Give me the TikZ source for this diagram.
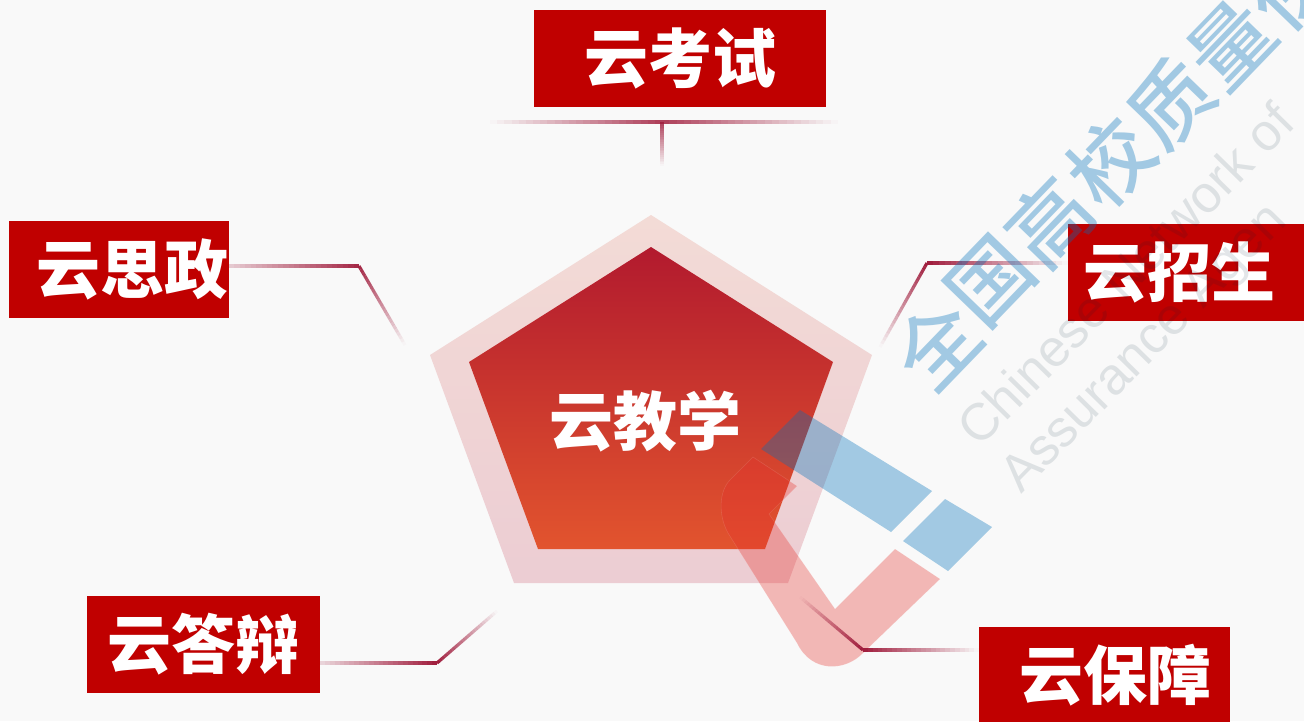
\documentclass[tikz,border=0pt]{standalone}
\usepackage{fontspec}
\usetikzlibrary{calc}
\newfontfamily\cjk{Noto Sans CJK SC}
\newfontfamily\cjkwm{Noto Sans CJK SC Medium}
\newfontfamily\wmfont{Liberation Sans}
\definecolor{pagebg}{HTML}{F9F9F9}
\definecolor{boxred}{HTML}{C00000}
\definecolor{linered}{HTML}{A01C3C}
\definecolor{logoblue}{HTML}{0071BA}
\definecolor{logored}{HTML}{E6312B}
\newcommand{\fadeseg}[4]{%
  \foreach \i in {1,...,24}{%
    \pgfmathsetmacro\op{#3+(#4-#3)*(\i-0.5)/24}%
    \pgfmathsetmacro\fa{(\i-1)/24}%
    \pgfmathsetmacro\fb{\i/24}%
    \draw[conn,draw opacity=\op] ($(#1)!\fa!(#2)$) -- ($(#1)!\fb!(#2)$);
  }}
\tikzset{
  box/.style={fill=boxred,inner sep=0pt,minimum height=97pt,text=white,font=\cjk\bfseries\fontsize{64}{64}\selectfont},
  conn/.style={linered,line width=3.2pt},
  wmcn/.style={rotate=46,text=logoblue,text opacity=.35,inner sep=0pt,font=\cjkwm\fontsize{82}{82}\selectfont},
  wmen/.style={rotate=45.5,text=black!70!logoblue,text opacity=.11,inner sep=0pt,anchor=west,font=\wmfont\fontsize{52}{52}\selectfont},
}
\begin{document}
\begin{tikzpicture}[x=1pt,y=-1pt]
\useasboundingbox (0,0) rectangle (1304,721);
\clip (0,0) rectangle (1304,721);
\fill[pagebg] (0,0) rectangle (1304,721);
% pentagon
\shade[top color={rgb,255:red,243;green,219;blue,214},bottom color={rgb,255:red,236;green,205;blue,211}]
  (651,215) -- (872,355) -- (788,583) -- (514,583) -- (430,355) -- cycle;
\shade[top color={rgb,255:red,178;green,26;blue,46},bottom color={rgb,255:red,226;green,84;blue,46}]
  (651,247) -- (833,362) -- (765,549) -- (538,549) -- (469,362) -- cycle;
\node[inner sep=0pt,text=white,font=\cjk\bfseries\fontsize{64}{64}\selectfont] (centre) at (645,421) {云教学};
% logo
\fill[logored,fill opacity=.33,draw=white,draw opacity=.12,line width=.6pt]
  (895,549) -- (940,579) -- (863,653) .. controls (846,671) and (812,674) .. (797,643)
  -- (728,533) .. controls (718,515) and (719,491) .. (730,480)
  -- (753,457) -- (797,486) -- (769,514) -- (835,609) -- cycle;
\fill[logoblue,fill opacity=.35] (800,410) -- (932,491) -- (891,532) -- (761,449) -- cycle;
\fill[logoblue,fill opacity=.35] (945,499) -- (992,527) -- (948,571) -- (903,541) -- cycle;
% boxes
\node[box,minimum width=292pt] (kaoshi) at (680,58.5) {云考试};
\node[box,minimum width=220pt] (sizheng) at (119,269.5) {\kern28pt 云思政};
\node[box,minimum width=236pt] (zhaosheng) at (1186,272.5) {云招生\kern14pt};
\node[box,minimum width=233pt] (dabian) at (203.5,644.5) {云答辩};
\node[box,minimum width=251pt] (baozhang) at (1104.5,675.5) {\kern22pt 云保障};
% connector coordinates
\coordinate (t0) at (490,122); \coordinate (t1) at (662,122); \coordinate (t2) at (838,122); \coordinate (t3) at (662,166);
\coordinate (l0) at (229,266); \coordinate (l1) at (359,266); \coordinate (l2) at (405,345);
\coordinate (r0) at (1068,263); \coordinate (r1) at (927,263); \coordinate (r2) at (880,347);
\coordinate (a0) at (320,663); \coordinate (a1) at (437,663); \coordinate (a2) at (497,611);
\coordinate (b0) at (979,650); \coordinate (b1) at (863,650); \coordinate (b2) at (800,597);
\fadeseg{t0}{t1}{0}{.85}
\fadeseg{t1}{t2}{.85}{0}
\fadeseg{t1}{t3}{.85}{0}
\fadeseg{l0}{l1}{.2}{.95}
\fadeseg{l1}{l2}{.95}{0}
\fadeseg{r0}{r1}{0}{1}
\fadeseg{r1}{r2}{1}{0}
\fadeseg{a0}{a1}{.15}{1}
\fadeseg{a1}{a2}{1}{0}
\fadeseg{b0}{b1}{0}{1}
\fadeseg{b1}{b2}{1}{0}
% watermark
\foreach \nm/\ch/\px/\py in {w1/全/936/344,w2/国/991/282,w3/高/1049/222,w4/校/1110/162,w5/质/1171/103,w6/量/1231/45,w7/保/1291/-14}{
  \node[wmcn] (\nm) at (\px,\py) {\ch};
}
\node[wmen] (wme1) at (966,436) {Chinese Network of};
\node[wmen] (wme2) at (1012,486) {Assurance Agen};
\end{tikzpicture}
\end{document}
